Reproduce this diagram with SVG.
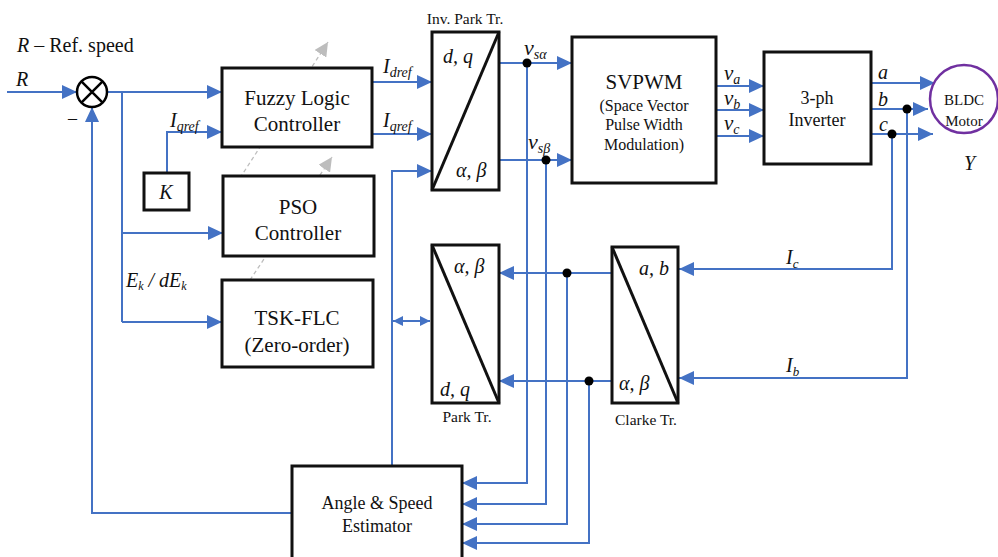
<svg xmlns="http://www.w3.org/2000/svg" width="998" height="557" viewBox="0 0 998 557">
<defs>
<style>
.box{fill:#fff;stroke:#111;stroke-width:3}
.ln{fill:none;stroke:#4472C4;stroke-width:2}
.arr{marker-end:url(#ah)}
.t{font-family:"Liberation Serif","Times New Roman",serif;fill:#111}
.i{font-style:italic}
.c{text-anchor:middle}
.dash{fill:none;stroke:#BDBDBD;stroke-width:1.3;stroke-dasharray:4 3;marker-end:url(#gh)}
.dot{fill:#000}
</style>
<marker id="ah" markerWidth="16" markerHeight="14" refX="15" refY="7" orient="auto" markerUnits="userSpaceOnUse"><path d="M0,0 L15,7 L0,14 z" fill="#4472C4"/></marker>
<marker id="sh" markerWidth="11" markerHeight="10" refX="10" refY="5" orient="auto-start-reverse" markerUnits="userSpaceOnUse"><path d="M0,0 L10,5 L0,10 z" fill="#4472C4"/></marker>
<marker id="gh" markerWidth="16" markerHeight="14" refX="14" refY="7" orient="auto" markerUnits="userSpaceOnUse"><path d="M0,0 L14,7 L0,14 z" fill="#BDBDBD"/></marker>
</defs>

<g id="connectors">
<path class="ln arr" d="M7,92 H77"/>
<path class="ln arr" d="M107,92 H222"/>
<path class="ln" d="M122,92 V322"/>
<path class="ln arr" d="M122,233 H223"/>
<path class="ln arr" d="M122,322 H222"/>
<path class="ln arr" d="M167,173 V132 H222"/>
<path class="ln arr" d="M292,513 H92 V107"/>
<path class="ln arr" d="M372,82 H432"/>
<path class="ln arr" d="M372,134 H432"/>
<path class="ln arr" d="M392,466 V171 H432"/>
<path class="ln" d="M393,321 H430" marker-start="url(#sh)" marker-end="url(#sh)"/>
<path class="ln arr" d="M499,63 H572"/>
<path class="ln arr" d="M499,160 H572"/>
<path class="ln arr" d="M716,86 H764"/>
<path class="ln arr" d="M716,110 H764"/>
<path class="ln arr" d="M716,136 H764"/>
<path class="ln arr" d="M871,83 H935"/>
<path class="ln arr" d="M871,109 H928"/>
<path class="ln arr" d="M871,134 H933"/>
<path class="ln arr" d="M892,134 V269 H679"/>
<path class="ln arr" d="M907,109 V378 H679"/>
<path class="ln arr" d="M612,273 H499"/>
<path class="ln arr" d="M612,381 H499"/>
<path class="ln arr" d="M527,63 V483 H462"/>
<path class="ln arr" d="M546,160 V504 H462"/>
<path class="ln arr" d="M567,273 V524 H462"/>
<path class="ln arr" d="M589,381 V543 H462"/>
<circle class="dot" cx="527" cy="63" r="4.5"/>
<circle class="dot" cx="546" cy="160" r="4.5"/>
<circle class="dot" cx="907" cy="109" r="4.5"/>
<circle class="dot" cx="892" cy="134" r="4.5"/>
<circle class="dot" cx="567" cy="273" r="4.5"/>
<circle class="dot" cx="589" cy="381" r="4.5"/>
<path class="dash" d="M240,178 L328,42"/>
<path class="dash" d="M250,280 L332,157"/>
</g>

<g id="labels">
<text class="t" x="17" y="52" font-size="20"><tspan class="i">R</tspan> – Ref. speed</text>
<text class="t i" x="16" y="86" font-size="20">R</text>
<text class="t" x="68" y="124" font-size="18">–</text>
<text class="t i" x="170" y="127" font-size="20">I<tspan font-size="14" dy="4">qref</tspan></text>
<text class="t i" x="383" y="73" font-size="20">I<tspan font-size="14" dy="4">dref</tspan></text>
<text class="t i" x="383" y="127" font-size="20">I<tspan font-size="14" dy="4">qref</tspan></text>
<text class="t i" x="126" y="287" font-size="20">E<tspan font-size="12" dy="3">k</tspan><tspan dy="-3"> / dE</tspan><tspan font-size="12" dy="3">k</tspan></text>
<text class="t i" x="524" y="55" font-size="22">v<tspan font-size="14" dy="4">sα</tspan></text>
<text class="t i" x="528" y="149" font-size="22">v<tspan font-size="14" dy="4">sβ</tspan></text>
<text class="t i" x="724" y="80" font-size="21">v<tspan font-size="14" dy="4">a</tspan></text>
<text class="t i" x="724" y="105" font-size="21">v<tspan font-size="14" dy="4">b</tspan></text>
<text class="t i" x="724" y="130" font-size="21">v<tspan font-size="14" dy="4">c</tspan></text>
<text class="t i" x="878" y="79" font-size="20">a</text>
<text class="t i" x="878" y="106" font-size="20">b</text>
<text class="t i" x="879" y="131" font-size="20">c</text>
<text class="t i" x="964" y="170" font-size="20">Y</text>
<text class="t i" x="786" y="264" font-size="20">I<tspan font-size="13" dy="4">c</tspan></text>
<text class="t i" x="786" y="372" font-size="20">I<tspan font-size="13" dy="4">b</tspan></text>
<text class="t c" x="465" y="24" font-size="15.5">Inv. Park Tr.</text>
<text class="t c" x="467" y="422" font-size="15.5">Park Tr.</text>
<text class="t c" x="646" y="425" font-size="15.5">Clarke Tr.</text>
</g>

<g id="sum">
<circle cx="92" cy="92" r="15" fill="#fff" stroke="#000" stroke-width="2.5"/>
<path d="M81.4,81.4 L102.6,102.6 M102.6,81.4 L81.4,102.6" stroke="#000" stroke-width="2.5"/>
</g>

<g id="flc">
<rect class="box" x="222" y="68" width="150" height="79"/>
<text class="t c" x="297" y="105" font-size="21">Fuzzy Logic</text>
<text class="t c" x="297" y="131" font-size="21">Controller</text>
</g>

<g id="k">
<rect class="box" x="144" y="173" width="45" height="37"/>
<text class="t i c" x="166" y="199" font-size="20">K</text>
</g>

<g id="pso">
<rect class="box" x="223" y="176" width="151" height="80"/>
<text class="t c" x="298" y="214" font-size="21">PSO</text>
<text class="t c" x="298" y="240" font-size="21">Controller</text>
</g>

<g id="tsk">
<rect class="box" x="222" y="280" width="151" height="87"/>
<text class="t c" x="297" y="325" font-size="21">TSK-FLC</text>
<text class="t c" x="297" y="352" font-size="21">(Zero-order)</text>
</g>

<g id="invpark">
<rect class="box" x="432" y="32" width="67" height="158"/>
<path d="M432,190 L499,32" stroke="#111" stroke-width="3"/>
<text class="t i" x="443" y="63" font-size="20">d, q</text>
<text class="t i" x="456" y="177" font-size="20">α, β</text>
</g>

<g id="svpwm">
<rect class="box" x="572" y="37" width="144" height="146"/>
<text class="t c" x="644" y="89" font-size="21">SVPWM</text>
<text class="t c" x="644" y="111" font-size="16">(Space Vector</text>
<text class="t c" x="644" y="130" font-size="16">Pulse Width</text>
<text class="t c" x="644" y="150" font-size="16">Modulation)</text>
</g>

<g id="inverter">
<rect class="box" x="764" y="52" width="107" height="112"/>
<text class="t c" x="817" y="104" font-size="18">3-ph</text>
<text class="t c" x="817" y="126" font-size="18">Inverter</text>
</g>

<g id="motor">
<circle cx="964" cy="99" r="34" fill="#fff" stroke="#7030A0" stroke-width="2.5"/>
<text class="t c" x="964" y="105" font-size="15">BLDC</text>
<text class="t c" x="964" y="126" font-size="15">Motor</text>
</g>

<g id="park">
<rect class="box" x="432" y="245" width="67" height="158"/>
<path d="M432,245 L499,403" stroke="#111" stroke-width="3"/>
<text class="t i" x="454" y="273" font-size="20">α, β</text>
<text class="t i" x="440" y="396" font-size="20">d, q</text>
</g>

<g id="clarke">
<rect class="box" x="612" y="247" width="66" height="156"/>
<path d="M612,247 L678,403" stroke="#111" stroke-width="3"/>
<text class="t i" x="639" y="275" font-size="20">a, b</text>
<text class="t i" x="619" y="390" font-size="20">α, β</text>
</g>

<g id="estimator">
<rect class="box" x="292" y="466" width="170" height="100"/>
<text class="t c" x="377" y="509" font-size="18">Angle &amp; Speed</text>
<text class="t c" x="377" y="532" font-size="18">Estimator</text>
</g>
</svg>
